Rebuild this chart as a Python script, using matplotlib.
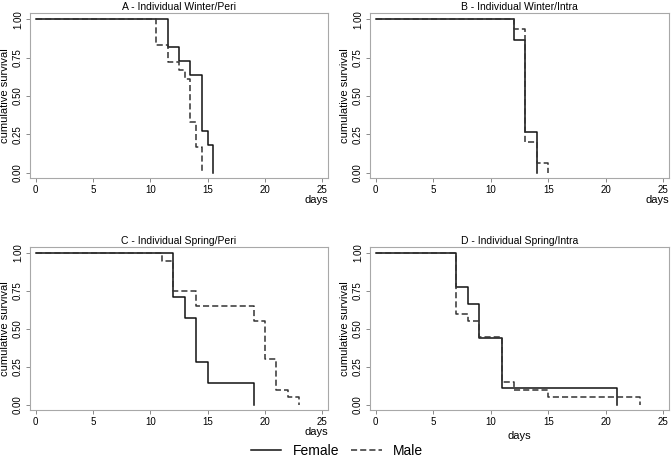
import matplotlib
matplotlib.use('Agg')
import matplotlib.pyplot as plt
from matplotlib.lines import Line2D

plt.rcParams['font.family'] = ['Liberation Sans', 'DejaVu Sans']

# Kaplan-Meier curves (days, cumulative survival)
titles = ['A - Individual Winter/Peri', 'B - Individual Winter/Intra',
          'C - Individual Spring/Peri', 'D - Individual Spring/Intra']

female_t = [
    [0, 11.5, 12.5, 13.5, 14.5, 15.0, 15.5],
    [0, 12, 13, 14],
    [0, 12, 13, 14, 15, 19],
    [0, 7, 8, 9, 11, 21],
]
female_s = [
    [1.0, 0.818, 0.727, 0.636, 0.273, 0.182, 0.0],
    [1.0, 0.867, 0.267, 0.0],
    [1.0, 0.714, 0.571, 0.286, 0.143, 0.0],
    [1.0, 0.778, 0.667, 0.444, 0.111, 0.0],
]
male_t = [
    [0, 10.5, 11.5, 12.5, 13.0, 13.5, 14.0, 14.5],
    [0, 12, 13, 14, 15],
    [0, 11, 12, 14, 19, 20, 21, 22, 23],
    [0, 7, 8, 9, 11, 12, 15, 23],
]
male_s = [
    [1.0, 0.833, 0.722, 0.667, 0.611, 0.333, 0.167, 0.0],
    [1.0, 0.933, 0.2, 0.067, 0.0],
    [1.0, 0.95, 0.75, 0.65, 0.55, 0.30, 0.10, 0.05, 0.0],
    [1.0, 0.60, 0.55, 0.45, 0.15, 0.10, 0.05, 0.0],
]

x_ticks = [0, 5, 10, 15, 20, 25]
y_ticks = [0.0, 0.25, 0.5, 0.75, 1.0]
y_labels = ['0.00', '0.25', '0.50', '0.75', '1.00']

W, H = 671, 465
fig = plt.figure(figsize=(W / 100, H / 100), dpi=100)

# panel boxes in pixels: (left, top, right, bottom)
boxes = [(30, 13, 328, 178), (370, 13, 669, 178),
         (30, 247, 328, 410), (370, 247, 669, 410)]

frame_col = '#a8a8a8'
for i, (l, t, r, b) in enumerate(boxes):
    ax = fig.add_axes([l / W, 1 - b / H, (r - l) / W, (b - t) / H])
    ax.step(female_t[i], female_s[i], where='post', color='#111111', lw=1.1)
    ax.step(male_t[i], male_s[i], where='post', color='#333333', lw=1.1,
            linestyle=(0, (4, 2)))
    ax.set_xlim(-0.5, 25.5)
    ax.set_ylim(-0.033, 1.04)
    ax.set_xticks(x_ticks)
    ax.set_yticks(y_ticks)
    ax.set_yticklabels(y_labels, rotation=90, va='center')
    ax.tick_params(direction='out', length=3, width=0.6, color='#777777',
                   labelsize=7, pad=2)
    for sp in ax.spines.values():
        sp.set_color(frame_col)
        sp.set_linewidth(0.8)
    ax.set_title(titles[i], fontsize=7.5, pad=2)
    ax.set_ylabel('cumulative survival', fontsize=8, labelpad=2)
    if i == 3:
        ax.set_xlabel('days', fontsize=8, labelpad=3)
    else:
        ax.set_xlabel('days', fontsize=8, loc='right', labelpad=0)

handles = [Line2D([], [], color='#111111', lw=1.1),
           Line2D([], [], color='#333333', lw=1.1, linestyle=(0, (4, 2)))]
fig.legend(handles, ['Female', 'Male'], loc='center', ncol=2,
           bbox_to_anchor=(337 / W, 1 - 451 / H), frameon=False,
           fontsize=10, handlelength=2.2, columnspacing=0.9, handletextpad=0.8)

fig.savefig('out.png', dpi=100)
